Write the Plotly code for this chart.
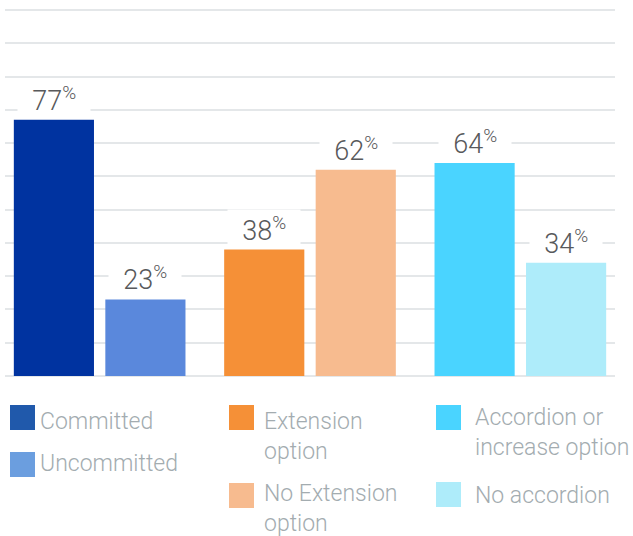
import plotly.graph_objects as go

# Facility features: share of facilities with / without each feature (%)
groups = ["Commitment", "Extension", "Accordion"]
with_feature = [77, 38, 64]
without_feature = [23, 62, 34]

legend_labels = [
    ["Committed", "Uncommitted"],
    ["Extension<br>option", "No Extension<br>option"],
    ["Accordion or<br>increase option", "No accordion"],
]

bar_colors_with = ["#0033a0", "#f59037", "#4ad4ff"]
bar_colors_without = ["#5a88dc", "#f7bb8f", "#aeecfa"]
legend_colors = [["#2059ab", "#6b9edf"], ["#f59037", "#f7bb8f"], ["#4ad4ff", "#aeecfa"]]

W, H = 633, 536
ML, MR, MT, MB = 5, 18, 8, 160
PLOT_W = W - ML - MR
PLOT_H = H - MT - MB
Y_MAX = 110.6
BAR_SHIFT = 45.6  # px offset of each bar from its group centre

LABEL_FONT = dict(family="Roboto", size=27, color="#58595b", weight=300)
LEGEND_FONT = dict(family="Roboto", size=23, color="#a3acb0", weight=300)

fig = go.Figure()
fig.add_trace(go.Bar(x=groups, y=with_feature, marker_color=bar_colors_with,
                     marker_line_width=0, hoverinfo="skip"))
fig.add_trace(go.Bar(x=groups, y=without_feature, marker_color=bar_colors_without,
                     marker_line_width=0, hoverinfo="skip"))

# value labels sitting on a white box that breaks the gridlines
for series, shift in ((with_feature, -BAR_SHIFT), (without_feature, BAR_SHIFT)):
    for g, v in zip(groups, series):
        fig.add_annotation(x=g, y=v, xref="x", yref="y", xshift=shift, yshift=1,
                           text=f"&nbsp;&nbsp;{v}<sup>%</sup>&nbsp;&nbsp;", showarrow=False,
                           yanchor="bottom", xanchor="center",
                           bgcolor="white", borderpad=1, font=LABEL_FONT)


def px_to_paper(px, py):
    return (px - ML) / PLOT_W, (H - MB - py) / PLOT_H


# custom three-column legend below the chart
col_x = [10, 229, 436]
text_gap = [3, 8, 12]
row_y = [[405, 452], [405, 483], [405, 482]]
text_dy = [[1, -4], [1, -5], [-3, -2]]
SQ = 25
for ci in range(3):
    for ri in range(2):
        x0, y0 = col_x[ci], row_y[ci][ri]
        px0, py0 = px_to_paper(x0, y0)
        px1, py1 = px_to_paper(x0 + SQ, y0 + SQ)
        fig.add_shape(type="rect", xref="paper", yref="paper",
                      x0=px0, x1=px1, y0=py1, y1=py0,
                      fillcolor=legend_colors[ci][ri], line_width=0)
        tx, ty = px_to_paper(x0 + SQ + text_gap[ci], y0 + text_dy[ci][ri])
        fig.add_annotation(x=tx, y=ty, xref="paper", yref="paper",
                           text=legend_labels[ci][ri], showarrow=False,
                           xanchor="left", yanchor="top", align="left",
                           font=LEGEND_FONT)

fig.update_layout(
    width=W, height=H,
    margin=dict(l=ML, r=MR, t=MT, b=MB),
    paper_bgcolor="white", plot_bgcolor="white",
    barmode="group", bargap=0.13, bargroupgap=0.124,
    showlegend=False,
    xaxis=dict(range=[-0.45, 2.45], showticklabels=False, ticks="",
               showgrid=False, zeroline=False, showline=False),
    yaxis=dict(range=[0, Y_MAX], dtick=10, showticklabels=False, ticks="",
               showgrid=True, gridcolor="#e4e7e9", gridwidth=1.5,
               zeroline=True, zerolinecolor="#e4e7e9", zerolinewidth=2,
               showline=False),
)

fig.write_html("out.html", config={"displayModeBar": False})
